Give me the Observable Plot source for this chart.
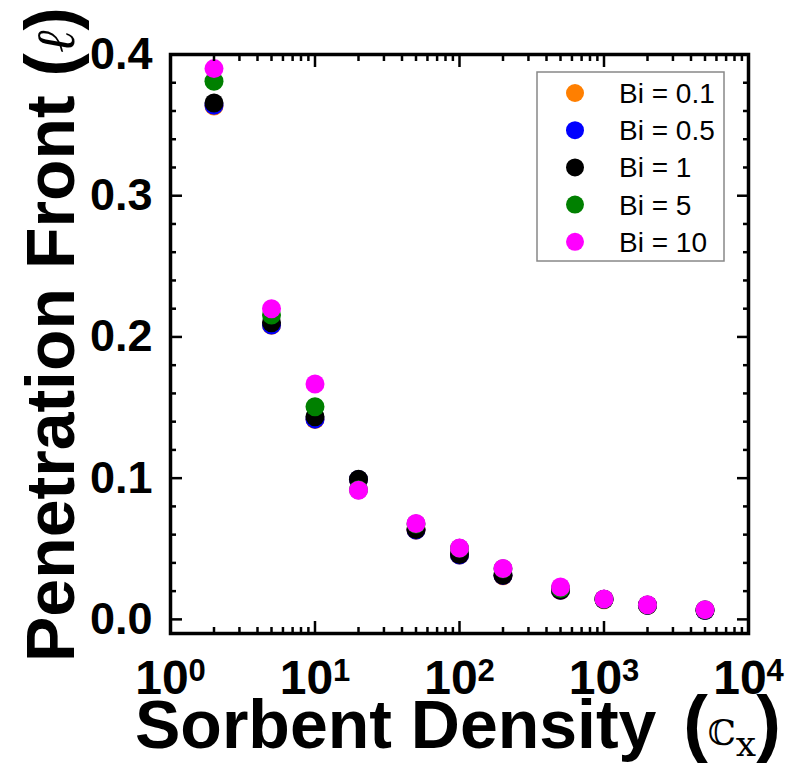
<!DOCTYPE html>
<html><head><meta charset="utf-8">
<script src="https://cdn.jsdelivr.net/npm/d3@7"></script>
<script src="https://cdn.jsdelivr.net/npm/@observablehq/plot@0.6"></script>
<style>html,body{margin:0;padding:0;background:#fff}#chart svg{display:block}</style>
</head><body><div id="chart"></div>
<script>
// ---- data ----
const density = [2, 5, 10, 20, 50, 100, 200, 500, 1000, 2000, 5000];
const seriesNames = ["Bi = 0.1", "Bi = 0.5", "Bi = 1", "Bi = 5", "Bi = 10"];
const seriesColors = ["#ff7f00", "#0000ff", "#000000", "#008000", "#ff00ff"];
const front_bi01 = [0.3635, 0.2082, 0.1416, 0.0989, 0.0632, 0.0455, 0.0309, 0.0205, 0.0139, 0.0098, 0.0062];
const front_bi05 = [0.3640, 0.2085, 0.1418, 0.0990, 0.0633, 0.0456, 0.0310, 0.0206, 0.0140, 0.0099, 0.0063];
const front_bi1  = [0.3657, 0.2100, 0.1435, 0.0993, 0.0636, 0.0459, 0.0312, 0.0208, 0.0142, 0.0100, 0.0064];
const front_bi5  = [0.3810, 0.2156, 0.1506, 0.0918, 0.0676, 0.0503, 0.0358, 0.0218, 0.0143, 0.0102, 0.0068];
const front_bi10 = [0.3900, 0.2200, 0.1667, 0.0915, 0.0679, 0.0506, 0.0360, 0.0229, 0.0145, 0.0103, 0.0069];
const xMajorTicks = [1, 10, 100, 1000, 10000];
const xMinorTicks = [2,3,4,5,6,7,8,9, 20,30,40,50,60,70,80,90, 200,300,400,500,600,700,800,900, 2000,3000,4000,5000,6000,7000,8000,9000];
const yMajorTicks = [0, 0.1, 0.2, 0.3, 0.4];
const yMinorTicks = [0.02,0.04,0.06,0.08, 0.12,0.14,0.16,0.18, 0.22,0.24,0.26,0.28, 0.32,0.34,0.36,0.38];
const xTitle = "Sorbent Density";
const yTitle = "Penetration Front";

const seriesValues = [front_bi01, front_bi05, front_bi1, front_bi5, front_bi10];
const rows = [];
seriesNames.forEach((name, i) => density.forEach((d, j) => rows.push({density: d, front: seriesValues[i][j], series: name})));

const W = 790, H = 769;
const M = {left: 170, right: 42, top: 54, bottom: 136};
const sans = "'Liberation Sans', Arial, Helvetica, sans-serif";
const serif = "'DejaVu Serif', 'Liberation Serif', serif";
const tickStroke = 2.5;

const svg = Plot.plot({
  width: W, height: H,
  marginLeft: M.left, marginRight: M.right, marginTop: M.top, marginBottom: M.bottom,
  style: {fontFamily: sans, background: "#fff", color: "#000"},
  x: {type: "log", domain: [1, 10000]},
  y: {domain: [-0.01, 0.4]},
  color: {domain: seriesNames, range: seriesColors},
  marks: [
    Plot.dot(rows, {x: "density", y: "front", fill: "series", r: 9.5}),
    Plot.frame({stroke: "#000", strokeWidth: 3.5}),
    Plot.axisX({ticks: xMajorTicks, anchor: "bottom", tickSize: -12, fill: "none", strokeWidth: tickStroke, label: null}),
    Plot.axisX({ticks: xMinorTicks, anchor: "bottom", tickSize: -6, fill: "none", strokeWidth: tickStroke, label: null}),
    Plot.axisX({ticks: xMajorTicks, anchor: "top", tickSize: -12, fill: "none", strokeWidth: tickStroke, label: null}),
    Plot.axisX({ticks: xMinorTicks, anchor: "top", tickSize: -6, fill: "none", strokeWidth: tickStroke, label: null}),
    Plot.axisY({ticks: yMajorTicks, anchor: "left", tickSize: -12, fill: "none", strokeWidth: tickStroke, label: null}),
    Plot.axisY({ticks: yMinorTicks, anchor: "left", tickSize: -6, fill: "none", strokeWidth: tickStroke, label: null}),
    Plot.axisY({ticks: yMajorTicks, anchor: "right", tickSize: -12, fill: "none", strokeWidth: tickStroke, label: null}),
    Plot.axisY({ticks: yMinorTicks, anchor: "right", tickSize: -6, fill: "none", strokeWidth: tickStroke, label: null}),
    Plot.axisX({ticks: xMajorTicks, anchor: "bottom", tickSize: 0, stroke: "none", tickPadding: 26,
      tickFormat: d => "10^" + Math.round(Math.log10(d)), fontSize: 48, fontWeight: "bold", label: null}),
    Plot.axisY({ticks: yMajorTicks, anchor: "left", tickSize: 0, stroke: "none", tickPadding: 18,
      tickFormat: d3.format(".1f"), fontSize: 45, fontWeight: "bold", label: null})
  ]
});
document.getElementById("chart").appendChild(svg);
const root = d3.select(svg);

// superscript exponents on x tick labels
root.selectAll('g[aria-label="x-axis tick label"] text').each(function() {
  const t = d3.select(this);
  const [base, exp] = t.text().split("^");
  t.text(null);
  t.append("tspan").text(base);
  t.append("tspan").attr("dy", "-0.42em").attr("font-size", 31).text(exp);
});

// axis titles
const xt = root.append("text")
  .attr("transform", "translate(135,748)").attr("text-anchor", "start")
  .attr("font-family", sans).attr("font-weight", "bold").attr("font-size", 68).attr("fill", "#000");
xt.append("tspan").text(xTitle + " ");
xt.append("tspan").attr("dx", 8).attr("font-size", 74).text("(");
xt.append("tspan").attr("font-family", serif).attr("font-weight", "normal").attr("font-size", 35).attr("dy", -3).text("\u2102");
xt.append("tspan").attr("font-family", serif).attr("font-weight", "normal").attr("font-size", 36).attr("dy", 11).text("x");
xt.append("tspan").attr("font-size", 74).attr("dy", -8).text(")");

const yt = root.append("text")
  .attr("transform", "translate(74,662) rotate(-90)").attr("text-anchor", "start")
  .attr("font-family", sans).attr("font-weight", "bold").attr("font-size", 68).attr("fill", "#000");
yt.append("tspan").text(yTitle + " ");
yt.append("tspan").attr("font-size", 70).text("(");
yt.append("tspan").attr("font-family", serif).attr("font-style", "italic").attr("font-weight", "normal").attr("font-size", 54).text("\u2113");
yt.append("tspan").attr("font-size", 70).text(")");

// legend
const color = svg.scale("color");
const lg = root.append("g").attr("class", "legend").attr("text-anchor", "start");
lg.append("rect").attr("x", 537).attr("y", 72).attr("width", 187).attr("height", 189)
  .attr("fill", "#fff").attr("stroke", "#888").attr("stroke-width", 1.5);
seriesNames.forEach((name, i) => {
  const cy = 93 + i * 37.2;
  lg.append("circle").attr("cx", 575).attr("cy", cy).attr("r", 9).attr("fill", color.apply(name));
  lg.append("text").attr("x", 619).attr("y", cy + 10).attr("font-family", sans)
    .attr("font-size", 28).attr("fill", "#000").text(name);
});
</script>
</body></html>
